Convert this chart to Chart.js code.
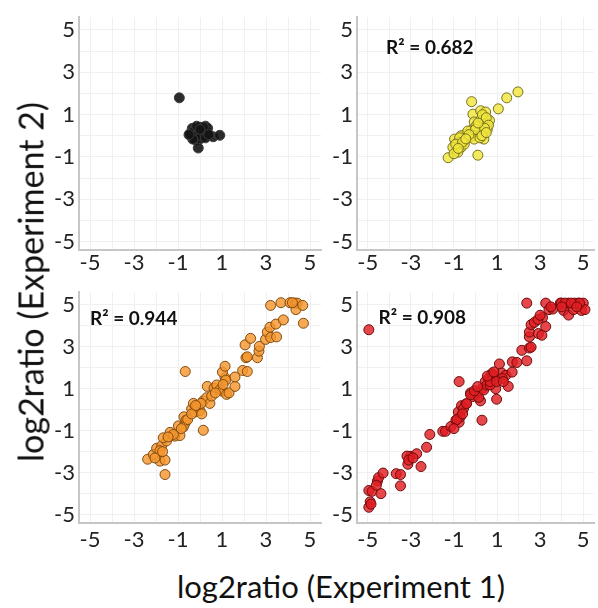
<!DOCTYPE html>
<html><head><meta charset="utf-8">
<script src="https://cdn.jsdelivr.net/npm/chart.js@4.4.0/dist/chart.umd.min.js"></script>
<style>
html,body{margin:0;padding:0;width:598px;height:608px;overflow:hidden;background:#fff;}
.p{position:absolute;}
#ytitle{position:absolute;font-family:Lato;font-size:34px;color:#111;left:30px;top:282px;transform:translate(-50%,-50%) rotate(-90deg);white-space:nowrap;}
#xtitle{position:absolute;font-family:Lato;font-size:31px;color:#111;left:341px;top:586px;transform:translate(-50%,-50%);white-space:nowrap;}
</style></head>
<body>
<div class="p" style="left:40px;top:0px;width:290px;height:278px"><canvas id="c1"></canvas></div>
<div class="p" style="left:318px;top:0px;width:282px;height:278px"><canvas id="c2"></canvas></div>
<div class="p" style="left:40px;top:275px;width:290px;height:280px"><canvas id="c3"></canvas></div>
<div class="p" style="left:318px;top:275px;width:282px;height:280px"><canvas id="c4"></canvas></div>
<div id="ytitle">log2ratio (Experiment 2)</div>
<div id="xtitle">log2ratio (Experiment 1)</div>
<script>
// ---- data ----
const tickLabels = [-5, -3, -1, 1, 3, 5];
const gridValues = [-5, -4, -3, -2, -1, 0, 1, 2, 3, 4, 5];
const r2Values = [null, '0.682', '0.944', '0.908'];

const blackPoints = [[-0.45,0.1],[-0.35,0.35],[-0.3,0.05],[-0.25,0.25],[-0.2,-0.1],[-0.15,0.3],[-0.1,0.0],[-0.05,0.2],[0,0.4],[0.05,0.1],[0.1,0.3],[0.15,-0.05],[0.2,0.2],[0.25,0.45],[0.3,0.1],[-0.4,0.15],[-0.2,-0.2],[0,-0.15],[0.2,0.0],[0.35,0.35],[-0.3,0.2],[-0.1,0.1],[0.1,0.15],[0.3,0.25],[-0.25,-0.05],[0.05,0.0],[0.15,0.4],[-0.15,0.45],[0.6,-0.05],[0.9,0.02],[-0.08,-0.58],[-0.94,1.79],[0.25,-0.1],[-0.33,-0.16],[0.0,0.3],[-0.5,0.05],[0.4,0.05]];

const yellowPoints = [[-1.27,-1.04],[0.11,-0.92],[-0.18,1.61],[1.45,1.79],[1.97,2.07],[1.06,1.27],[-0.12,1.02],[0.24,1.18],[0.47,1.12],[-0.06,0.65],[0.35,0.76],[0.65,0.72],[0.39,0.56],[0.55,0.3],[0.24,0.22],[0.09,0.1],[-0.21,0.25],[-0.44,0.07],[-0.67,0.0],[0.39,-0.16],[-0.14,0.0],[-0.36,0.22],[-0.97,-0.16],[-0.82,-0.32],[-0.67,-0.55],[-0.89,-0.7],[-1.05,-0.55],[-0.82,-0.78],[-0.52,-0.24],[-0.29,-0.08],[0.17,0.41],[0.02,0.45],[0.32,0.99],[0.5,0.85],[-0.74,-0.1],[-0.92,-0.4],[-0.06,-0.16],[-0.52,-0.4],[0.21,-0.1],[-0.6,-0.3],[-1.0,-0.85],[0.0,0.3],[0.6,0.5],[0.42,0.35],[-0.3,0.05],[0.3,0.0],[-0.8,-0.6],[-0.45,-0.15],[0.12,0.6],[0.5,0.15]];

const orangePoints = [[-2.38,-2.36],[-2.12,-2.14],[-1.82,-2.45],[-1.59,-2.4],[-1.59,-3.09],[-1.97,-1.84],[-1.74,-1.72],[-1.52,-1.49],[-1.67,-1.34],[-1.36,-1.08],[-1.14,-1.26],[-0.91,-1.23],[-0.98,-0.77],[-0.68,-0.65],[-0.73,-0.34],[-0.64,-0.5],[-0.76,-0.83],[-0.56,-0.47],[0.15,-0.98],[-0.67,1.82],[-0.38,0.04],[-0.23,-0.11],[-0.3,0.3],[-0.08,0.11],[0.0,-0.04],[0.15,0.42],[0.3,0.57],[0.45,0.3],[0.33,1.11],[0.64,1.03],[0.76,1.18],[0.91,0.95],[1.02,0.88],[1.14,1.52],[1.02,1.79],[1.14,2.07],[1.17,1.41],[1.21,0.73],[1.32,0.8],[1.59,1.11],[1.59,1.56],[1.94,1.87],[2.15,1.82],[2.09,2.48],[2.15,2.52],[2.05,3.09],[2.3,3.4],[2.61,2.48],[2.68,2.79],[2.7,3.02],[2.98,3.35],[3.06,3.7],[3.18,3.93],[3.21,3.44],[3.48,3.47],[3.45,4.08],[3.79,4.28],[3.21,4.97],[3.68,5.1],[4.09,5.1],[4.32,5.08],[4.42,5.08],[4.36,4.77],[4.67,4.97],[4.7,4.12],[4.2,5.1],[0.53,0.65],[-0.12,0.19],[0.08,-0.2],[-0.38,-0.2],[-1.21,-1.18],[-1.82,-1.95],[-2.05,-2.3],[-1.7,-2.0],[-1.45,-1.3],[0.05,0.3],[0.7,0.8],[1.05,1.2],[-0.85,-0.9],[-0.2,0.2]];

const redPoints = [[-4.95,3.81],[-4.95,-3.85],[-4.8,-3.89],[-4.89,-4.39],[-4.95,-4.65],[-4.85,-4.5],[-4.55,-3.4],[-4.5,-3.24],[-4.29,-3.02],[-4.39,-4.0],[-3.68,-3.05],[-3.48,-3.09],[-3.48,-3.63],[-3.14,-2.6],[-3.03,-2.22],[-3.18,-2.21],[-2.73,-2.1],[-2.53,-2.71],[-2.27,-1.79],[-2.12,-1.18],[-1.52,-1.03],[-1.39,-1.03],[-1.14,-0.8],[-0.91,-0.5],[-0.76,-0.6],[-0.71,-0.34],[-0.8,-0.11],[-0.65,0.19],[-0.45,0.27],[-0.76,1.34],[-0.23,0.8],[-0.08,0.73],[0.08,0.8],[0.23,0.42],[0.3,-0.5],[0.33,1.03],[0.45,1.34],[0.61,1.49],[0.76,1.72],[0.91,1.49],[0.98,0.5],[0.94,1.0],[1.11,2.18],[1.21,1.75],[1.41,1.64],[1.52,1.11],[1.7,1.79],[1.71,2.28],[1.92,2.25],[2.15,2.83],[2.38,2.33],[2.5,2.94],[2.58,2.98],[2.38,5.08],[2.5,3.47],[2.5,3.7],[2.58,4.05],[2.73,4.16],[2.92,3.63],[3.08,3.55],[3.11,4.39],[3.26,3.96],[3.26,5.08],[3.41,4.77],[3.59,4.8],[3.94,5.08],[4.09,4.73],[4.32,4.51],[4.32,5.08],[4.55,4.77],[4.77,5.08],[4.92,4.73],[5.0,5.08],[5.08,4.77],[3.98,5.08],[4.15,5.08],[4.6,5.08],[4.83,5.08],[4.45,5.08],[-0.12,0.63],[0.15,0.59],[0.38,0.94],[0.53,1.18],[0.68,1.18],[0.83,1.64],[1.24,1.49],[-0.56,0.05],[-0.86,-0.47],[-0.41,0.29],[-0.23,0.72],[-0.05,0.9],[0.68,1.34],[0.98,1.34],[1.29,1.34],[-1.0,-0.9],[-0.6,-0.2],[0.1,1.1],[0.55,1.6],[0.85,1.8],[2.9,4.3],[3.0,4.5],[3.5,4.9],[4.0,4.9],[4.7,4.9],[-4.6,-3.6],[-3.1,-2.4],[-2.9,-2.3]];

// ---- styling / layout ----
const panels = [
  {id:'c1', pts:blackPoints, fill:'rgba(20,20,20,0.9)', border:'rgba(60,60,60,1)', r2:r2Values[0], lab:null, xh:28, xpad:0},
  {id:'c2', pts:yellowPoints, fill:'rgba(240,230,60,0.82)', border:'rgba(120,112,30,1)', r2:r2Values[1], lab:[-4.15,4.15], xh:28, xpad:0},
  {id:'c3', pts:orangePoints, fill:'rgba(245,150,45,0.82)', border:'rgba(130,75,15,1)', r2:r2Values[2], lab:[-5.0,4.31], xh:32, xpad:4},
  {id:'c4', pts:redPoints, fill:'rgba(225,30,35,0.82)', border:'rgba(110,10,10,1)', r2:r2Values[3], lab:[-4.5,4.39], xh:32, xpad:4}
];

const r2Plugin = {
  id:'r2label',
  afterDatasetsDraw(chart, args, opts) {
    if (!opts.text) return;
    const {ctx, scales} = chart;
    const px = scales.x.getPixelForValue(opts.pos[0]);
    const py = scales.y.getPixelForValue(opts.pos[1]);
    ctx.save();
    ctx.font = 'bold 19px Lato';
    ctx.fillStyle = '#111';
    ctx.textAlign = 'left';
    ctx.textBaseline = 'middle';
    ctx.fillText('R² = ' + opts.text, px, py);
    ctx.restore();
  }
};

function axisCommon(min, max) {
  return {
    type:'linear', min:min, max:max,
    afterBuildTicks: s => { s.ticks = gridValues.map(v => ({value:v})); },
    grid:{color:'#f0f0f0', lineWidth:1, drawTicks:false},
    border:{display:true, color:'#c6c6c6', width:2},
    ticks:{
      autoSkip:false, maxRotation:0, color:'#222',
      font:{family:'Lato', size:22},
      callback: v => tickLabels.includes(v) ? String(v) : ''
    }
  };
}

panels.forEach(p => {
  const xs = axisCommon(-5.5, 5.5);
  xs.ticks.padding = p.xpad;
  xs.afterFit = s => { s.height = p.xh; };
  const ys = axisCommon(-5.4, 5.6);
  ys.ticks.padding = 4;
  ys.afterFit = s => { s.width = 39; };
  new Chart(document.getElementById(p.id), {
    type:'scatter',
    data:{datasets:[{
      data:p.pts.map(a => ({x:a[0], y:a[1]})),
      backgroundColor:p.fill, borderColor:p.border, borderWidth:1,
      pointRadius:5, pointHoverRadius:5
    }]},
    options:{
      responsive:true, maintainAspectRatio:false, animation:false,
      layout:{padding:{top:8, right:(p.id==='c1'||p.id==='c3')?9:1, bottom:0, left:0}},
      plugins:{legend:{display:false}, tooltip:{enabled:false}, r2label:{text:p.r2, pos:p.lab}},
      scales:{x:xs, y:ys}
    },
    plugins:[r2Plugin]
  });
});
</script>
</body></html>
